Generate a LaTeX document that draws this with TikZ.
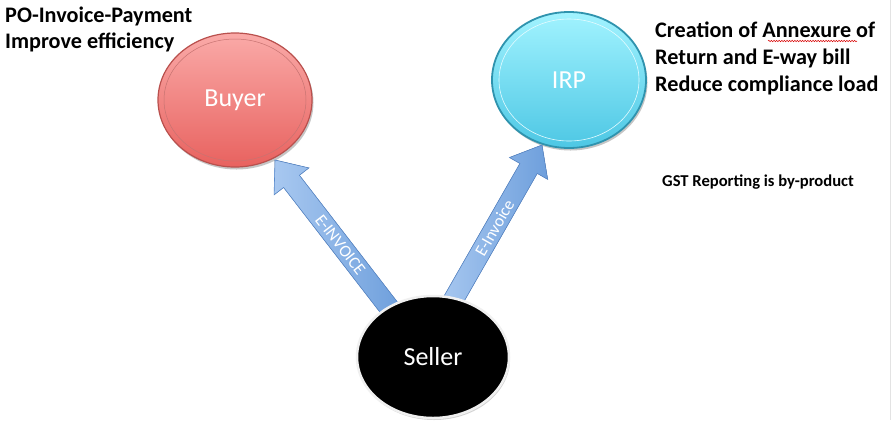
\documentclass[tikz,border=0pt]{standalone}
\usepackage{fontspec}
\setmainfont{Carlito}
\usetikzlibrary{calc,shadows,shapes.geometric,decorations.pathmorphing}
\definecolor{buyerTop}{HTML}{FAAAA8}
\definecolor{buyerBot}{HTML}{E8625F}
\definecolor{buyerEdge}{HTML}{B9504D}
\definecolor{irpTop}{HTML}{A2F3FF}
\definecolor{irpBot}{HTML}{4DC7E4}
\definecolor{irpEdge}{HTML}{2F93AE}
\definecolor{arrL}{HTML}{A8C8F0}
\definecolor{arrR}{HTML}{6E9FDC}
\definecolor{arrEdge}{HTML}{5A8ACB}
\newcommand{\fatarrow}[2]{%
  \coordinate (#1-base) at ($(#2)!27bp!(#1)$);
  \filldraw[arrowbody]
    ($(#1)!10bp!90:(#2)$) -- ($(#1-base)!10bp!90:(#2)$) --
    ($(#1-base)!22bp!90:(#2)$) -- (#2) --
    ($(#1-base)!22bp!-90:(#2)$) -- ($(#1-base)!10bp!-90:(#2)$) --
    ($(#1)!10bp!-90:(#2)$) -- cycle;}
\begin{document}
\begin{tikzpicture}[x=1bp,y=-1bp,
  bubble/.style={ellipse, inner sep=0pt, text=white,
    font=\fontsize{26bp}{29bp}\selectfont},
  buyerst/.style={bubble, minimum width=154bp, minimum height=134bp,
    top color=buyerTop, bottom color=buyerBot, draw=buyerEdge, line width=1.2bp,
    drop shadow={shadow xshift=1.5bp, shadow yshift=-2.5bp, opacity=0.45}},
  irpst/.style={bubble, minimum width=154bp, minimum height=136bp,
    top color=irpTop, bottom color=irpBot, draw=irpEdge, line width=1.8bp,
    drop shadow={shadow xshift=1.5bp, shadow yshift=-2.5bp, opacity=0.45}},
  sellerst/.style={bubble, minimum width=152bp, minimum height=122bp,
    fill=black, draw=white!88!gray, line width=2.5bp,
    drop shadow={shadow xshift=1bp, shadow yshift=-2bp, opacity=0.35}},
  arrowbody/.style={left color=arrL, right color=arrR, draw=arrEdge, line width=0.6bp},
  arrlabel/.style={text=white, font=\fontsize{17bp}{19bp}\selectfont, inner sep=0pt},
  bigtxt/.style={anchor=base west, inner sep=0pt,
    font=\fontsize{22.2bp}{26bp}\selectfont\bfseries},
  smalltxt/.style={anchor=base west, inner sep=0pt,
    font=\fontsize{16.6bp}{19bp}\selectfont\bfseries}
]
\useasboundingbox[fill=white] (0,0) rectangle (891,420);
\draw[gray!22, line width=1bp] (890,0) -- (890,420);

% top bubbles
\node[buyerst] (buyer) at (235,100) {Buyer};
\draw[buyerEdge!80!white, line width=0.5bp] (buyer.center) ellipse [x radius=71bp, y radius=61bp];
\node[irpst] (irp) at (569,80) {IRP};
\draw[white!70!irpTop, line width=0.6bp] (irp.center) ellipse [x radius=70bp, y radius=61bp];

% arrows
\coordinate (ltail) at (394,314);
\coordinate (ltip) at (275,160);
\coordinate (rtail) at (447,311);
\coordinate (rtip) at (542,145);
\fatarrow{ltail}{ltip}
\fatarrow{rtail}{rtip}
\path (ltail) -- (ltip) node[pos=0.45, sloped, arrlabel] (lbl1) {E-INVOICE};
\path (rtail) -- (rtip) node[pos=0.5, sloped, arrlabel] (lbl2) {E-Invoice};

% seller
\node[sellerst] (seller) at (433,357) {Seller};

% texts
\node[bigtxt] (t1) at (5,22) {PO-Invoice-Payment};
\node[bigtxt] (t2) at (5,48) {Improve efficiency};
\node[bigtxt] (r1) at (655,37) {Creation of Annexure of};
\node[bigtxt] (r2) at (655,64) {Return and E-way bill};
\node[bigtxt] (r3) at (655,91) {Reduce compliance load};
\draw[red!85!black, line width=0.5bp, decorate,
  decoration={snake, amplitude=0.7bp, segment length=2.6bp}] (768,41) -- (857,41);
\node[smalltxt] (gst) at (662,186) {GST Reporting is by-product};
\end{tikzpicture}
\end{document}
